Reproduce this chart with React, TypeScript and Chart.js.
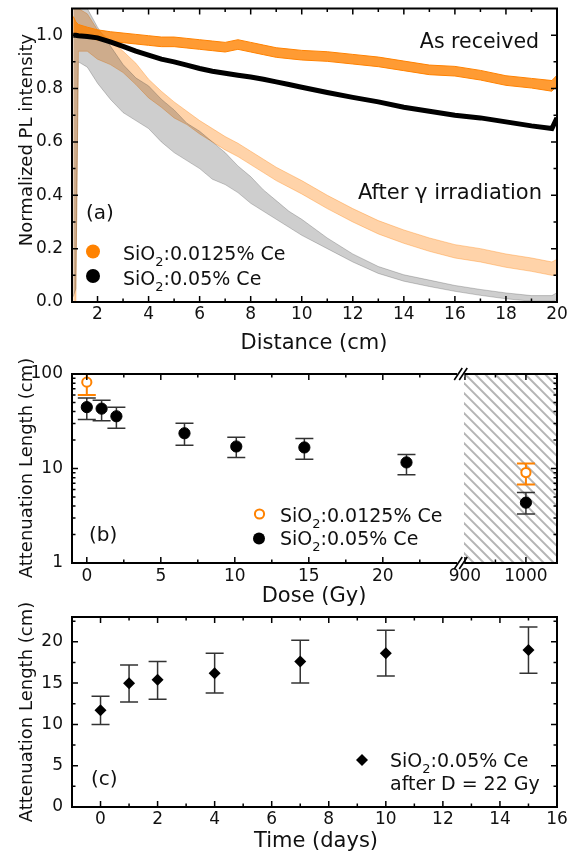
import React, { useEffect, useRef } from "react";
import { Chart, registerables } from "chart.js";

Chart.register(...registerables);

const FONT = "'DejaVu Sans', Verdana, sans-serif";
const ORANGE = "#ff8200";
const TICK_SIZE = 17;

// ---------- Panel (a): normalized PL intensity vs distance ----------
const distance = [1.05, 1.15, 1.25, 1.6, 2, 2.5, 3, 3.5, 4, 4.5, 5, 5.5, 6, 6.5, 7, 7.5, 8, 8.5, 9, 9.5, 10, 11, 12, 13, 14, 15, 16, 17, 18, 19, 19.8, 20];
const orangeReceivedHi = [1.07, 1.05, 1.04, 1.03, 1.02, 1.013, 1.008, 1.003, 0.998, 0.993, 0.993, 0.988, 0.983, 0.978, 0.973, 0.983, 0.973, 0.963, 0.953, 0.948, 0.943, 0.938, 0.928, 0.918, 0.903, 0.888, 0.883, 0.868, 0.848, 0.838, 0.83, 0.85];
const orangeReceivedLo = [1.0, 1.01, 1.0, 0.99, 0.982, 0.977, 0.972, 0.967, 0.962, 0.957, 0.957, 0.952, 0.947, 0.942, 0.937, 0.947, 0.937, 0.927, 0.917, 0.912, 0.907, 0.902, 0.892, 0.882, 0.867, 0.852, 0.847, 0.832, 0.812, 0.802, 0.79, 0.81];
const blackReceived = [1.0, 1.0, 0.998, 0.995, 0.99, 0.975, 0.958, 0.94, 0.925, 0.91, 0.9, 0.888, 0.875, 0.865, 0.857, 0.85, 0.843, 0.835, 0.825, 0.815, 0.805, 0.785, 0.767, 0.75, 0.73, 0.715, 0.7, 0.69, 0.675, 0.66, 0.65, 0.69];
const orangeIrradiatedHi = [1.1, 1.1, 1.1, 1.08, 1.02, 0.98, 0.94, 0.895, 0.835, 0.79, 0.75, 0.715, 0.68, 0.65, 0.62, 0.595, 0.565, 0.535, 0.505, 0.48, 0.455, 0.4, 0.35, 0.305, 0.27, 0.24, 0.215, 0.2, 0.18, 0.165, 0.15, 0.16];
const orangeIrradiatedLo = [0.0, 0.0, 0.94, 0.94, 0.91, 0.89, 0.86, 0.815, 0.765, 0.73, 0.69, 0.665, 0.63, 0.6, 0.57, 0.545, 0.515, 0.485, 0.455, 0.43, 0.405, 0.35, 0.3, 0.255, 0.22, 0.19, 0.165, 0.15, 0.13, 0.115, 0.1, 0.1];
const blackIrradiatedHi = [1.1, 1.1, 1.1, 1.1, 1.03, 0.96, 0.89, 0.84, 0.81, 0.76, 0.72, 0.67, 0.64, 0.6, 0.56, 0.51, 0.47, 0.42, 0.38, 0.34, 0.31, 0.24, 0.18, 0.133, 0.102, 0.082, 0.062, 0.047, 0.034, 0.024, 0.024, 0.035];
const blackIrradiatedLo = [0.02, 0.05, 0.9, 0.88, 0.82, 0.76, 0.71, 0.68, 0.65, 0.6, 0.56, 0.53, 0.5, 0.46, 0.44, 0.41, 0.37, 0.34, 0.31, 0.28, 0.25, 0.2, 0.15, 0.107, 0.078, 0.058, 0.04, 0.025, 0.012, 0.003, 0.003, 0.008];

const aXTicks = [2, 4, 6, 8, 10, 12, 14, 16, 18, 20];
const aXLabels = ["2", "4", "6", "8", "10", "12", "14", "16", "18", "20"];
const aXMinor = [3, 5, 7, 9, 11, 13, 15, 17, 19];
const aYTicks = [0, 0.2, 0.4, 0.6, 0.8, 1.0];
const aYLabels = ["0.0", "0.2", "0.4", "0.6", "0.8", "1.0"];
const aYMinor = [0.1, 0.3, 0.5, 0.7, 0.9];

// ---------- Panel (b): attenuation length vs dose ----------
const orangeDose = [0, 1000];
const orangeLength = [82, 9.06];
const orangeLengthLo = [60, 6.76];
const orangeLengthHi = [100, 11.3];
const blackDose = [0, 1, 2, 6.6, 10.1, 14.7, 21.6, 1000];
const blackLength = [44.6, 43, 35.7, 23.6, 17.1, 16.7, 11.6, 4.35];
const blackLengthLo = [33, 32, 26.7, 17.6, 13.1, 12.5, 8.6, 3.3];
const blackLengthHi = [55.6, 52.7, 44.6, 30.1, 21.4, 20.8, 14.1, 5.56];

const bXTicks = [0, 5, 10, 15, 20, 900, 1000];
const bXLabels = ["0", "5", "10", "15", "20", "900", "1000"];
const bXMinor = [2.5, 7.5, 12.5, 17.5, 22.5, 950];
const bYTicks = [1, 10, 100];
const bYLabels = ["1", "10", "100"];
const bYMinor = [2, 3, 4, 5, 6, 7, 8, 9, 20, 30, 40, 50, 60, 70, 80, 90];

// broken dose axis: left segment in Gy, right segment (900-1050 Gy) compressed
const BREAK_AT = 25.3;
const RIGHT_ORIGIN = 25.55;
const RIGHT_SCALE = 0.0412;
const brokenX = (d: number) => (d < 100 ? d : RIGHT_ORIGIN + (d - 900) * RIGHT_SCALE);

// ---------- Panel (c): attenuation length vs time ----------
const days = [0, 1, 2, 4, 7, 10, 15];
const dayLength = [11.7, 14.97, 15.4, 16.2, 17.6, 18.6, 19.0];
const dayLengthLo = [10.0, 12.7, 13.05, 13.8, 15.0, 15.85, 16.2];
const dayLengthHi = [13.4, 17.2, 17.6, 18.6, 20.2, 21.4, 21.8];

const cXTicks = [0, 2, 4, 6, 8, 10, 12, 14, 16];
const cXLabels = ["0", "2", "4", "6", "8", "10", "12", "14", "16"];
const cXMinor = [1, 3, 5, 7, 9, 11, 13, 15];
const cYTicks = [0, 5, 10, 15, 20];
const cYLabels = ["0", "5", "10", "15", "20"];
const cYMinor = [2.5, 7.5, 12.5, 17.5, 22.5];

// ---------- drawing helpers ----------
type Part = { t: string; sub?: boolean };
type Label = { parts: Part[]; x: number; y: number; size: number; align?: "left" | "center" | "right"; rotate?: boolean };
type Marker = { kind: "circle" | "ring" | "diamond"; x: number; y: number; r: number; color: string };

const txt = (t: string): Part[] => [{ t }];
const sio2 = (rest: string): Part[] => [{ t: "SiO" }, { t: "2", sub: true }, { t: rest }];

function drawLabel(ctx: CanvasRenderingContext2D, l: Label) {
  const fontOf = (p: Part) => `${p.sub ? Math.round(l.size * 0.68) : l.size}px ${FONT}`;
  const widths = l.parts.map((p) => {
    ctx.font = fontOf(p);
    return ctx.measureText(p.t).width;
  });
  const total = widths.reduce((s, w) => s + w, 0);
  ctx.save();
  ctx.translate(l.x, l.y);
  if (l.rotate) ctx.rotate(-Math.PI / 2);
  ctx.fillStyle = "#111";
  ctx.textBaseline = "alphabetic";
  ctx.textAlign = "left";
  let cx = l.align === "center" ? -total / 2 : l.align === "right" ? -total : 0;
  l.parts.forEach((p, i) => {
    ctx.font = fontOf(p);
    ctx.fillText(p.t, cx, p.sub ? l.size * 0.3 : 0);
    cx += widths[i];
  });
  ctx.restore();
}

function drawMarker(ctx: CanvasRenderingContext2D, m: Marker) {
  ctx.save();
  ctx.beginPath();
  if (m.kind === "diamond") {
    ctx.moveTo(m.x, m.y - m.r);
    ctx.lineTo(m.x + m.r, m.y);
    ctx.lineTo(m.x, m.y + m.r);
    ctx.lineTo(m.x - m.r, m.y);
    ctx.closePath();
    ctx.fillStyle = m.color;
    ctx.fill();
  } else if (m.kind === "ring") {
    ctx.arc(m.x, m.y, m.r, 0, Math.PI * 2);
    ctx.fillStyle = "#fff";
    ctx.fill();
    ctx.lineWidth = 2;
    ctx.strokeStyle = m.color;
    ctx.stroke();
  } else {
    ctx.arc(m.x, m.y, m.r, 0, Math.PI * 2);
    ctx.fillStyle = m.color;
    ctx.fill();
  }
  ctx.restore();
}

function framePlugin(cfg: { xMajor: number[]; xMinor: number[]; yMajor: number[]; yMinor: number[]; breakAt?: number }) {
  return {
    id: "frame",
    afterDatasetsDraw(chart: any) {
      const { ctx, chartArea: a, scales } = chart;
      const sx = scales.x;
      const sy = scales.y;
      ctx.save();
      ctx.strokeStyle = "#000";
      ctx.lineWidth = 1.5;
      const marks = (vals: number[], len: number, horiz: boolean) => {
        vals.forEach((v) => {
          ctx.beginPath();
          if (horiz) {
            const p = sx.getPixelForValue(v);
            ctx.moveTo(p, a.bottom);
            ctx.lineTo(p, a.bottom - len);
            ctx.moveTo(p, a.top);
            ctx.lineTo(p, a.top + len);
          } else {
            const p = sy.getPixelForValue(v);
            ctx.moveTo(a.left, p);
            ctx.lineTo(a.left + len, p);
            ctx.moveTo(a.right, p);
            ctx.lineTo(a.right - len, p);
          }
          ctx.stroke();
        });
      };
      marks(cfg.xMajor, 6, true);
      marks(cfg.xMinor, 3.5, true);
      marks(cfg.yMajor, 6, false);
      marks(cfg.yMinor, 3.5, false);
      ctx.lineWidth = 2;
      ctx.strokeRect(a.left, a.top, a.right - a.left, a.bottom - a.top);
      if (cfg.breakAt !== undefined) {
        const p = sx.getPixelForValue(cfg.breakAt);
        [a.top, a.bottom].forEach((y: number) => {
          ctx.fillStyle = "#fff";
          ctx.fillRect(p - 4, y - 3, 7, 6);
          ctx.lineWidth = 1.6;
          [-3, 2].forEach((off) => {
            ctx.beginPath();
            ctx.moveTo(p + off - 4, y + 6);
            ctx.lineTo(p + off + 4, y - 6);
            ctx.stroke();
          });
        });
      }
      ctx.restore();
    },
  };
}

function decorPlugin(labels: Label[], markers: Marker[]) {
  return {
    id: "decor",
    afterDraw(chart: any) {
      const ctx = chart.ctx;
      markers.forEach((m) => drawMarker(ctx, m));
      labels.forEach((l) => drawLabel(ctx, l));
    },
  };
}

type ErrSet = { x: number[]; lo: number[]; hi: number[]; color: string; width: number; cap: number };
function errorBarPlugin(sets: ErrSet[]) {
  return {
    id: "errorBars",
    beforeDatasetsDraw(chart: any) {
      const { ctx, scales } = chart;
      ctx.save();
      sets.forEach((s) => {
        ctx.strokeStyle = s.color;
        ctx.lineWidth = s.width;
        s.x.forEach((xv, i) => {
          const px = scales.x.getPixelForValue(xv);
          const y1 = scales.y.getPixelForValue(s.lo[i]);
          const y2 = scales.y.getPixelForValue(s.hi[i]);
          ctx.beginPath();
          ctx.moveTo(px, y1);
          ctx.lineTo(px, y2);
          ctx.moveTo(px - s.cap, y1);
          ctx.lineTo(px + s.cap, y1);
          ctx.moveTo(px - s.cap, y2);
          ctx.lineTo(px + s.cap, y2);
          ctx.stroke();
        });
      });
      ctx.restore();
    },
  };
}

function hatchPlugin(from: number, spacing: number) {
  return {
    id: "hatch",
    beforeDatasetsDraw(chart: any) {
      const { ctx, chartArea: a, scales } = chart;
      const x0 = scales.x.getPixelForValue(from);
      ctx.save();
      ctx.beginPath();
      ctx.rect(x0, a.top, a.right - x0, a.bottom - a.top);
      ctx.clip();
      ctx.strokeStyle = "#b5b5b5";
      ctx.lineWidth = 2;
      const h = a.bottom - a.top;
      for (let s = x0 - h; s < a.right + 10; s += spacing) {
        ctx.beginPath();
        ctx.moveTo(s, a.top);
        ctx.lineTo(s + h, a.bottom);
        ctx.stroke();
      }
      ctx.restore();
    },
  };
}

function axisX(min: number, max: number, ticks: number[], labels: string[], height: number, pad: number) {
  return {
    type: "linear",
    min,
    max,
    grid: { display: false, drawTicks: false },
    border: { display: false },
    ticks: {
      padding: pad,
      font: { family: FONT, size: TICK_SIZE },
      color: "#111",
      maxRotation: 0,
      autoSkip: false,
      callback: (_v: any, i: number) => labels[i] ?? "",
    },
    afterBuildTicks: (s: any) => {
      s.ticks = ticks.map((v) => ({ value: v }));
    },
    afterFit: (s: any) => {
      s.height = height;
      s.paddingLeft = 0;
      s.paddingRight = 0;
    },
  };
}

function axisY(type: string, min: number, max: number, ticks: number[], labels: string[]) {
  return {
    type,
    min,
    max,
    grid: { display: false, drawTicks: false },
    border: { display: false },
    ticks: {
      padding: 9,
      font: { family: FONT, size: TICK_SIZE },
      color: "#111",
      autoSkip: false,
      callback: (_v: any, i: number) => labels[i] ?? "",
    },
    afterBuildTicks: (s: any) => {
      s.ticks = ticks.map((v) => ({ value: v }));
    },
    afterFit: (s: any) => {
      s.width = 72;
      s.paddingTop = 0;
      s.paddingBottom = 0;
    },
  };
}

function baseOptions(top: number, x: any, y: any) {
  return {
    responsive: false,
    animation: false,
    events: [],
    layout: { padding: { top, right: 11, left: 0, bottom: 0 } },
    plugins: { legend: { display: false }, tooltip: { enabled: false } },
    scales: { x, y },
  };
}

const pts = (ys: number[]) => distance.map((d, i) => ({ x: d, y: ys[i] }));
const band = (data: number[], color: string, width: number, fill: any, bg?: string) => ({
  data: pts(data),
  borderColor: color,
  borderWidth: width,
  pointRadius: 0,
  tension: 0,
  fill,
  backgroundColor: bg ?? "transparent",
});

function configA(): any {
  return {
    type: "line",
    data: {
      datasets: [
        band(blackReceived, "#000", 5, false),
        band(orangeReceivedHi, ORANGE, 1, false),
        band(orangeReceivedLo, ORANGE, 1, "-1", "rgba(255,130,0,0.8)"),
        band(blackIrradiatedHi, "rgba(40,40,40,0.3)", 0.8, false),
        band(blackIrradiatedLo, "rgba(40,40,40,0.3)", 0.8, "-1", "rgba(50,50,50,0.24)"),
        band(orangeIrradiatedHi, "rgba(255,140,30,0.5)", 0.8, false),
        band(orangeIrradiatedLo, "rgba(255,140,30,0.5)", 0.8, "-1", "rgba(255,150,50,0.42)"),
      ],
    },
    options: baseOptions(8.5, axisX(1, 20, aXTicks, aXLabels, 54, 2), axisY("linear", 0, 1.1, aYTicks, aYLabels)),
    plugins: [
      framePlugin({ xMajor: aXTicks, xMinor: aXMinor, yMajor: aYTicks, yMinor: aYMinor }),
      decorPlugin(
        [
          { parts: txt("Normalized PL intensity"), x: 31.5, y: 140, size: 18, align: "center", rotate: true },
          { parts: txt("Distance (cm)"), x: 314, y: 349, size: 21, align: "center" },
          { parts: txt("As received"), x: 539, y: 48, size: 20.5, align: "right" },
          { parts: txt("After γ irradiation"), x: 542, y: 199, size: 21, align: "right" },
          { parts: txt("(a)"), x: 86, y: 219, size: 20 },
          { parts: sio2(":0.0125% Ce"), x: 123, y: 260, size: 19 },
          { parts: sio2(":0.05% Ce"), x: 123, y: 285, size: 19 },
        ],
        [
          { kind: "circle", x: 93, y: 251.5, r: 7, color: ORANGE },
          { kind: "circle", x: 93, y: 276, r: 7, color: "#000" },
        ]
      ),
    ],
  };
}

function configB(): any {
  return {
    type: "scatter",
    data: {
      datasets: [
        {
          data: orangeDose.map((d, i) => ({ x: brokenX(d), y: orangeLength[i] })),
          pointStyle: "circle",
          pointRadius: 4.6,
          pointBorderWidth: 2,
          pointBorderColor: ORANGE,
          pointBackgroundColor: "#fff",
          borderColor: ORANGE,
          backgroundColor: "#fff",
        },
        {
          data: blackDose.map((d, i) => ({ x: brokenX(d), y: blackLength[i] })),
          pointStyle: "circle",
          pointRadius: 5.6,
          pointBorderWidth: 1,
          pointBorderColor: "#000",
          pointBackgroundColor: "#000",
          borderColor: "#000",
          backgroundColor: "#000",
        },
      ],
    },
    options: baseOptions(18, axisX(-1, 31.77, bXTicks.map(brokenX), bXLabels, 45, 3.5), axisY("logarithmic", 1, 100, bYTicks, bYLabels)),
    plugins: [
      hatchPlugin(RIGHT_ORIGIN - 0.07, 10),
      errorBarPlugin([
        { x: orangeDose.map(brokenX), lo: orangeLengthLo, hi: orangeLengthHi, color: ORANGE, width: 2, cap: 9 },
        { x: blackDose.map(brokenX), lo: blackLengthLo, hi: blackLengthHi, color: "#333", width: 1.5, cap: 9 },
      ]),
      framePlugin({ xMajor: bXTicks.map(brokenX), xMinor: bXMinor.map(brokenX), yMajor: bYTicks, yMinor: bYMinor, breakAt: BREAK_AT }),
      decorPlugin(
        [
          { parts: txt("Attenuation Length (cm)"), x: 31.5, y: 112, size: 18, align: "center", rotate: true },
          { parts: txt("Dose (Gy)"), x: 314, y: 246, size: 21, align: "center" },
          { parts: txt("(b)"), x: 89, y: 185, size: 20 },
          { parts: sio2(":0.0125% Ce"), x: 280, y: 166, size: 19 },
          { parts: sio2(":0.05% Ce"), x: 280, y: 189, size: 19 },
        ],
        [
          { kind: "ring", x: 259.5, y: 158, r: 4.6, color: ORANGE },
          { kind: "circle", x: 259, y: 182.5, r: 6, color: "#000" },
        ]
      ),
    ],
  };
}

// canvas C starts at page y = 588 (transparent, overlaps the bottom of B)
function configC(): any {
  return {
    type: "scatter",
    data: {
      datasets: [
        {
          data: days.map((d, i) => ({ x: d, y: dayLength[i] })),
          pointStyle: "rectRot",
          pointRadius: 6,
          pointBorderWidth: 0,
          pointBackgroundColor: "#000",
          pointBorderColor: "#000",
          backgroundColor: "#000",
          borderColor: "#000",
        },
      ],
    },
    options: baseOptions(29, axisX(-1, 16, cXTicks, cXLabels, 48, 2.6), axisY("linear", 0, 23, cYTicks, cYLabels)),
    plugins: [
      errorBarPlugin([{ x: days, lo: dayLengthLo, hi: dayLengthHi, color: "#333", width: 1.5, cap: 9 }]),
      framePlugin({ xMajor: cXTicks, xMinor: cXMinor, yMajor: cYTicks, yMinor: cYMinor }),
      decorPlugin(
        [
          { parts: txt("Attenuation Length (cm)"), x: 31.5, y: 124, size: 18, align: "center", rotate: true },
          { parts: txt("Time (days)"), x: 316, y: 259, size: 21, align: "center" },
          { parts: txt("(c)"), x: 91, y: 197, size: 20 },
          { parts: sio2(":0.05% Ce"), x: 390, y: 179, size: 19 },
          { parts: txt("after D = 22 Gy"), x: 390, y: 202, size: 19 },
        ],
        [{ kind: "diamond", x: 362, y: 172, r: 6, color: "#000" }]
      ),
    ],
  };
}

export default function App() {
  const refA = useRef<HTMLCanvasElement>(null);
  const refB = useRef<HTMLCanvasElement>(null);
  const refC = useRef<HTMLCanvasElement>(null);

  useEffect(() => {
    Chart.defaults.font.family = FONT;
    const charts = [
      new Chart(refA.current as HTMLCanvasElement, configA()),
      new Chart(refB.current as HTMLCanvasElement, configB()),
      new Chart(refC.current as HTMLCanvasElement, configC()),
    ];
    return () => charts.forEach((c) => c.destroy());
  }, []);

  const cv = (top: number, h: number): React.CSSProperties => ({ position: "absolute", left: 0, top, width: 568, height: h });

  return (
    <div style={{ position: "absolute", left: 0, top: 0, width: 568, height: 855, background: "#fff" }}>
      <canvas ref={refA} width={568} height={356} style={cv(0, 356)} />
      <canvas ref={refB} width={568} height={252} style={cv(356, 252)} />
      <canvas ref={refC} width={568} height={267} style={cv(588, 267)} />
    </div>
  );
}
